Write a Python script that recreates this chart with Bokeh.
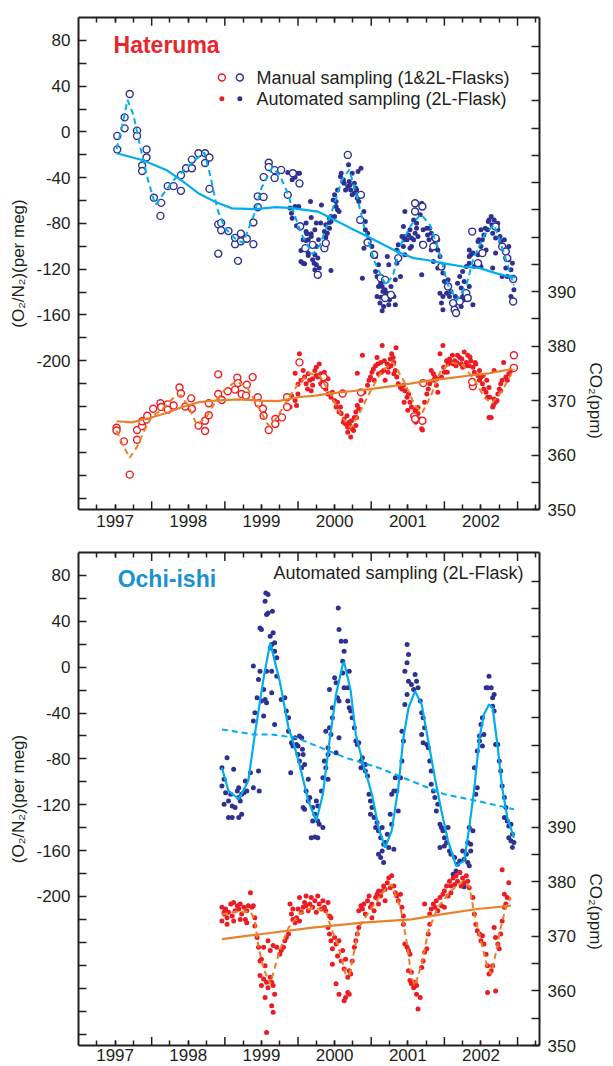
from bokeh.plotting import figure
from bokeh.models import Range1d, LinearAxis, FixedTicker, Title
from bokeh.layouts import column
from bokeh.embed import file_html
from bokeh.resources import INLINE
from bokeh.core.properties import value

# ---------------------------------------------------------------- data
# Hateruma: O2/N2 (per meg) and CO2 (ppm), decimal years
hat_o2_manual = [
    (1997.53, -3.5), (1997.53, -15.3), (1997.63, 12.7), (1997.63, 3.1), (1997.70, 33.2),
    (1997.80, 1.1), (1997.80, -3.5), (1997.87, -29.4), (1997.87, -34.1), (1997.93, -15.3),
    (1997.93, -22.4), (1998.03, -57.6), (1998.13, -62.0), (1998.12, -73.4), (1998.22, -47.4),
    (1998.30, -47.4), (1998.40, -51.5), (1998.40, -37.8), (1998.47, -31.7), (1998.55, -31.7),
    (1998.55, -24.2), (1998.64, -18.6), (1998.73, -18.6), (1998.73, -27.1), (1998.79, -22.4),
    (1998.79, -49.8), (1998.91, -80.8), (1998.95, -79.5), (1998.95, -85.9), (1999.05, -86.7),
    (1998.91, -106.4), (1999.14, -98.1), (1999.14, -92.6), (1999.22, -88.9), (1999.22, -95.6),
    (1999.30, -93.4), (1999.18, -112.7), (1999.39, -79.2), (1999.39, -98.1), (1999.45, -65.8),
    (1999.45, -56.3), (1999.53, -56.8), (1999.53, -39.5), (1999.60, -26.9), (1999.60, -30.6),
    (1999.68, -33.4), (1999.68, -40.2), (1999.77, -33.2), (1999.86, -55.0), (1999.93, -36.1),
    (2000.02, -45.0), (2000.03, -82.5), (2000.10, -101.6), (2000.20, -98.7), (2000.27, -124.9),
    (2000.36, -101.6), (2000.38, -97.2), (2000.68, -20.1), (2000.86, -55.0), (2000.85, -76.9),
    (2000.95, -96.7), (2001.04, -107.4), (2001.13, -127.8), (2001.19, -129.3), (2001.19, -145.2),
    (2001.27, -142.4), (2001.37, -110.3), (2001.60, -69.6), (2001.60, -62.3), (2001.70, -65.2),
    (2001.71, -98.7), (2001.88, -92.8), (2001.85, -100.2), (2001.96, -117.6), (2002.05, -135.1),
    (2002.12, -149.6), (2002.14, -155.5), (2002.16, -158.3), (2002.21, -148.2), (2002.30, -140.9),
    (2002.32, -145.2), (2002.38, -87.1), (2002.70, -82.7), (2002.79, -100.2), (2002.84, -104.5),
    (2002.86, -110.3), (2002.52, -105.9), (2002.46, -114.7), (2002.94, -128.6), (2002.94, -148.2),
]

hat_o2_auto = [
    (1999.86, -35.5), (1999.93, -36.1), (2000.00, -36.1), (1999.96, -39.6), (1999.92, -41.9),
    (2000.17, -60.9), (1999.89, -66.6), (1999.96, -65.2), (2000.01, -65.2), (1999.91, -71.0),
    (1999.92, -75.4), (1999.98, -82.1), (2000.04, -83.2), (2000.11, -79.7), (2000.18, -74.8),
    (2000.25, -79.7), (2000.12, -89.1), (2000.18, -89.1), (2000.14, -94.3), (2000.11, -94.9),
    (2000.20, -98.7), (2000.04, -103.7), (2000.14, -108.0), (2000.04, -113.3), (2000.07, -114.7),
    (2000.22, -114.7), (2000.23, -120.5), (2000.27, -124.9), (2000.02, -36.1), (2000.09, -115.3),
    (2000.23, -107.4), (2000.27, -110.3), (2000.25, -116.2), (2000.29, -119.0), (2000.31, -79.7),
    (2000.38, -81.2), (2000.43, -79.2), (2000.32, -63.8), (2000.36, -87.1), (2000.38, -92.0),
    (2000.43, -75.4), (2000.45, -78.3), (2000.45, -74.0), (2000.45, -121.1), (2000.48, -59.4),
    (2000.50, -55.0), (2000.52, -65.2), (2000.54, -68.1), (2000.56, -69.6), (2000.59, -36.1),
    (2000.61, -43.4), (2000.63, -44.8), (2000.68, -47.8), (2000.70, -43.4), (2000.69, -28.8),
    (2000.74, -36.1), (2000.72, -50.7), (2000.77, -53.5), (2000.79, -49.2), (2000.81, -57.9),
    (2000.83, -60.9), (2000.86, -31.7), (2000.90, -69.6), (2000.92, -78.3), (2000.92, -85.6),
    (2000.95, -88.5), (2000.97, -94.3), (2001.01, -100.2), (2001.06, -108.9), (2000.90, -101.6),
    (2001.10, -116.2), (2000.88, -127.8), (2001.08, -126.4), (2001.10, -135.1), (2001.15, -135.1),
    (2001.19, -138.0), (2001.08, -143.8), (2001.13, -144.4), (2001.17, -152.6), (2001.24, -151.1),
    (2001.33, -151.1), (2001.15, -156.3), (2001.22, -108.9), (2001.24, -116.2), (2001.35, -114.7),
    (2001.35, -103.1), (2001.37, -98.7), (2001.40, -126.4), (2001.44, -82.7), (2001.46, -91.4),
    (2001.49, -94.3), (2001.51, -90.0), (2001.55, -92.8), (2001.60, -88.5), (2001.62, -84.1),
    (2001.58, -76.9), (2001.69, -62.3), (2001.67, -72.5), (2001.71, -85.6), (2001.76, -84.1),
    (2001.80, -84.1), (2001.82, -88.5), (2001.85, -92.8), (2001.82, -103.1), (2001.89, -101.6),
    (2001.91, -103.1), (2001.94, -108.9), (2001.44, -100.2), (2001.46, -107.4), (2001.53, -101.6),
    (2001.55, -100.2), (2001.42, -91.4), (2001.46, -69.6), (2001.85, -113.3), (2001.91, -119.0),
    (2001.98, -123.4), (2002.00, -130.7), (2002.03, -140.9), (2001.96, -149.6), (2001.98, -155.5),
    (2002.07, -143.8), (2002.23, -152.6), (2002.25, -143.8), (2002.39, -151.1), (2001.94, -140.9),
    (2001.69, -124.9), (2002.21, -126.4), (2002.25, -122.0), (2002.30, -117.6), (2002.34, -114.7),
    (2002.27, -130.7), (2002.34, -108.9), (2002.39, -105.9), (2002.46, -95.8), (2002.50, -100.2),
    (2002.52, -94.3), (2002.54, -90.0), (2002.59, -85.6), (2002.61, -76.9), (2002.64, -74.0),
    (2002.68, -76.9), (2002.73, -85.6), (2002.66, -88.5), (2002.70, -92.8), (2002.77, -95.8),
    (2002.88, -111.8), (2002.84, -119.0), (2002.91, -120.5), (2002.93, -114.7), (2002.79, -126.4),
    (2002.86, -126.4), (2002.95, -138.0), (2002.91, -143.8), (2002.46, -107.4), (2002.36, -107.4),
    (2002.34, -103.1), (2002.57, -103.1), (2002.50, -117.6), (2002.66, -119.0), (2002.70, -105.9),
    (2000.54, -50.7), (2000.58, -39.0), (2000.62, -41.9), (2000.65, -50.7), (2000.71, -46.3),
    (2000.74, -55.0), (2000.77, -44.8), (2000.80, -50.7), (2000.82, -34.6), (2000.50, -73.9),
    (2000.52, -60.8), (2000.43, -84.1), (2000.40, -88.5), (2001.06, -122.0), (2001.13, -132.2),
    (2001.16, -139.4), (2001.21, -140.9), (2001.25, -146.7), (2001.31, -143.8), (2001.27, -135.1),
    (2001.33, -129.3), (2001.12, -149.6), (2001.53, -85.6), (2001.58, -94.3), (2001.64, -91.4),
    (2001.69, -97.2), (2001.77, -90.0), (2001.79, -94.3), (2001.87, -97.2), (2001.91, -94.3),
    (2001.45, -94.3), (2001.62, -79.8), (2002.05, -129.2), (2002.09, -139.4), (2002.15, -143.8),
    (2002.18, -132.2), (2002.23, -136.5), (2002.27, -146.7), (2002.34, -135.1), (2001.98, -143.8),
    (2002.14, -152.5), (2002.47, -94.3), (2002.50, -85.6), (2002.56, -84.1), (2002.60, -78.3),
    (2002.65, -81.2), (2002.73, -79.8), (2002.76, -91.4), (2002.82, -94.3), (2002.88, -100.1),
    (2002.41, -117.6), (2000.07, -94.3), (2000.11, -87.0), (2000.18, -91.4), (2000.23, -85.6),
    (2000.28, -94.3), (2000.14, -106.0), (2000.20, -111.8), (2000.25, -100.1),
]

hat_o2_trend = [
    (1997.52, -18.6), (1997.87, -24.5), (1998.20, -33.2), (1998.43, -43.4), (1998.65, -54.1),
    (1998.88, -61.4), (1999.10, -66.8), (1999.42, -67.5), (1999.70, -65.8), (1999.92, -66.6),
    (2000.27, -69.6), (2000.50, -76.9), (2000.72, -84.1), (2000.95, -91.4), (2001.17, -98.7),
    (2001.35, -104.5), (2001.58, -110.3), (2001.80, -112.4), (2002.03, -115.3), (2002.25, -117.6),
    (2002.48, -119.0), (2002.70, -123.4), (2002.88, -126.4), (2002.97, -126.9),
]

hat_o2_fit = [
    (1997.52, -15), (1997.60, 6), (1997.67, 28), (1997.75, 15), (1997.85, -15), (1997.95, -42),
    (1998.05, -64), (1998.15, -55), (1998.30, -42), (1998.45, -33), (1998.60, -24), (1998.72, -18),
    (1998.80, -38), (1998.90, -68), (1999.00, -84), (1999.15, -94), (1999.25, -97), (1999.40, -72),
    (1999.50, -49), (1999.65, -31), (1999.75, -38), (1999.85, -52), (1999.95, -72), (2000.05, -90),
    (2000.20, -107), (2000.30, -99), (2000.45, -72), (2000.60, -42), (2000.70, -33), (2000.80, -55),
    (2000.92, -87), (2001.05, -114), (2001.20, -134), (2001.30, -125), (2001.40, -99), (2001.55, -81),
    (2001.68, -72), (2001.80, -81), (2001.92, -103), (2002.05, -134), (2002.17, -147), (2002.30, -134),
    (2002.40, -110), (2002.55, -90), (2002.68, -81), (2002.80, -103), (2002.95, -134),
]

hat_co2_manual = [
    (1997.52, 365.0), (1997.52, 364.5), (1997.62, 362.5), (1997.70, 356.4), (1997.80, 364.6),
    (1997.80, 362.8), (1997.87, 365.3), (1997.87, 366.2), (1997.93, 366.5), (1997.94, 367.2),
    (1998.02, 368.5), (1998.12, 369.5), (1998.13, 368.8), (1998.22, 369.3), (1998.22, 368.3),
    (1998.30, 369.1), (1998.38, 372.4), (1998.40, 371.3), (1998.46, 368.9), (1998.54, 370.4),
    (1998.55, 368.5), (1998.64, 365.4), (1998.73, 364.4), (1998.73, 366.3), (1998.78, 367.3),
    (1998.78, 369.5), (1998.91, 374.8), (1998.91, 371.2), (1998.96, 370.1), (1999.04, 371.7),
    (1999.14, 372.0), (1999.17, 374.2), (1999.18, 373.2), (1999.23, 371.2), (1999.29, 370.9),
    (1999.30, 372.9), (1999.38, 374.3), (1999.45, 370.6), (1999.46, 369.5), (1999.52, 368.5),
    (1999.53, 367.2), (1999.60, 364.6), (1999.69, 366.6), (1999.69, 365.7), (1999.78, 366.9),
    (1999.85, 368.8), (1999.85, 370.6), (2000.02, 377.0), (2000.35, 374.3), (2000.36, 372.8),
    (2000.61, 371.3), (2000.86, 371.5), (2001.71, 373.2), (2001.59, 367.1), (2001.60, 366.6),
    (2001.70, 366.3), (2002.39, 372.6), (2002.38, 373.4), (2002.95, 378.3), (2002.95, 376.0),
]

hat_co2_auto = [
    (1999.89, 368.8), (1999.91, 370.9), (1999.96, 370.0), (1999.98, 369.1), (2000.00, 371.2),
    (1999.96, 375.0), (2000.02, 378.6), (2000.04, 373.7), (2000.09, 374.3), (2000.11, 373.1),
    (2000.14, 374.9), (2000.16, 373.7), (2000.18, 371.8), (2000.20, 372.8), (2000.23, 375.5),
    (2000.25, 374.6), (2000.27, 374.3), (2000.29, 376.7), (2000.31, 374.9), (2000.34, 373.7),
    (2000.38, 372.1), (2000.41, 371.2), (2000.45, 370.6), (2000.47, 371.5), (2000.50, 370.0),
    (2000.52, 368.8), (2000.54, 369.7), (2000.56, 367.9), (2000.59, 367.6), (2000.63, 366.6),
    (2000.65, 365.7), (2000.68, 365.1), (2000.70, 366.0), (2000.72, 363.3), (2000.74, 364.8),
    (2000.77, 366.9), (2000.79, 367.9), (2000.81, 369.1), (2000.83, 368.5), (2000.86, 370.0),
    (2000.88, 378.3), (2000.81, 375.0), (2000.90, 371.5), (2000.95, 372.8), (2000.97, 373.7),
    (2000.99, 374.3), (2001.01, 375.2), (2001.04, 373.7), (2001.06, 376.4), (2001.08, 377.9),
    (2001.10, 374.9), (2001.13, 377.0), (2001.15, 380.1), (2001.17, 375.5), (2001.19, 373.7),
    (2001.22, 376.7), (2001.24, 376.1), (2001.26, 377.6), (2001.28, 378.6), (2001.31, 377.0),
    (2001.33, 375.5), (2001.34, 379.7), (2001.35, 374.3), (2001.37, 373.1), (2001.40, 372.4),
    (2001.42, 372.1), (2001.44, 372.8), (2001.46, 371.8), (2001.49, 370.6), (2001.51, 371.2),
    (2001.53, 369.7), (2001.55, 368.8), (2001.60, 368.2), (2001.62, 368.5), (2001.64, 367.6),
    (2001.69, 364.8), (2001.70, 364.6), (2001.58, 366.6), (2001.60, 367.1), (2001.73, 369.7),
    (2001.76, 371.2), (2001.78, 372.1), (2001.80, 373.1), (2001.82, 375.5), (2001.85, 373.7),
    (2001.87, 374.3), (2001.89, 372.8), (2001.91, 371.5), (2001.94, 378.6), (2001.98, 380.1),
    (2001.96, 374.3), (2002.00, 375.2), (2002.03, 377.3), (2002.05, 376.7), (2002.07, 377.6),
    (2002.09, 377.0), (2002.12, 376.7), (2002.14, 377.3), (2002.16, 376.4), (2002.18, 378.3),
    (2002.21, 377.9), (2002.23, 376.7), (2002.25, 376.1), (2002.27, 378.9), (2002.30, 377.0),
    (2002.32, 378.3), (2002.34, 376.4), (2002.36, 377.3), (2002.39, 376.1), (2002.41, 375.2),
    (2002.43, 376.7), (2002.46, 374.6), (2002.48, 373.7), (2002.50, 374.3), (2002.52, 373.1),
    (2002.54, 372.1), (2002.57, 371.5), (2002.59, 370.6), (2002.61, 372.4), (2002.64, 366.9),
    (2002.66, 368.8), (2002.68, 370.3), (2002.70, 369.7), (2002.73, 371.2), (2002.75, 372.1),
    (2002.77, 373.1), (2002.79, 373.7), (2002.81, 377.0), (2002.84, 374.3), (2002.86, 373.7),
    (2002.88, 374.9), (2002.91, 375.5), (2002.68, 375.5), (2002.61, 366.9),
    (2000.07, 375.5), (2000.13, 372.1), (2000.20, 374.0), (2000.25, 376.1), (2000.31, 373.1),
    (2000.36, 375.2), (2000.41, 374.0), (2000.00, 373.0), (2000.58, 368.8), (2000.62, 366.0),
    (2000.67, 367.2), (2000.71, 365.4), (2000.76, 364.5), (2000.68, 364.2), (2000.73, 366.3),
    (2000.79, 365.4), (2000.80, 366.9), (2001.03, 375.8), (2001.09, 376.7), (2001.14, 375.2),
    (2001.18, 377.3), (2001.23, 375.2), (2001.27, 376.4), (2001.31, 374.9), (2001.30, 377.9),
    (2001.45, 369.7), (2001.50, 368.2), (2001.57, 367.2), (2001.61, 366.0), (2001.64, 368.7),
    (2001.67, 366.6), (2001.85, 374.9), (2001.90, 374.0), (2001.99, 376.1), (2002.04, 375.2),
    (2002.11, 378.3), (2002.17, 377.0), (2002.24, 377.6), (2002.31, 376.4), (2002.35, 378.0),
    (2002.42, 377.0), (2002.48, 375.5), (2002.53, 374.6), (2002.58, 373.7), (2002.62, 370.6),
    (2002.67, 369.1), (2002.72, 370.0), (2002.77, 371.8),
]

hat_co2_trend = [
    (1997.52, 366.2), (1997.73, 366.0), (1997.97, 366.8), (1998.20, 367.7), (1998.42, 368.8),
    (1998.65, 369.7), (1998.87, 370.0), (1999.19, 370.2), (1999.46, 370.0), (1999.73, 369.9),
    (2000.00, 370.6), (2000.23, 370.9), (2000.45, 371.3), (2000.72, 371.7), (2000.99, 372.1),
    (2001.26, 372.6), (2001.53, 373.1), (2001.80, 373.7), (2002.07, 374.1), (2002.34, 374.6),
    (2002.61, 375.0), (2002.93, 375.8),
]

hat_co2_fit = [
    (1997.52, 364.5), (1997.60, 362.0), (1997.70, 359.5), (1997.80, 361.5), (1997.90, 364.5),
    (1998.00, 367.0), (1998.15, 368.5), (1998.30, 370.5), (1998.40, 371.0), (1998.50, 369.0),
    (1998.62, 365.5), (1998.75, 367.0), (1998.88, 370.0), (1999.00, 372.0), (1999.15, 373.5),
    (1999.30, 372.5), (1999.45, 369.0), (1999.60, 365.3), (1999.72, 367.0), (1999.85, 370.0),
    (2000.00, 373.0), (2000.15, 375.0), (2000.30, 374.5), (2000.45, 371.0), (2000.60, 367.0),
    (2000.72, 365.0), (2000.85, 368.0), (2001.00, 372.0), (2001.15, 375.5), (2001.30, 377.0),
    (2001.45, 373.5), (2001.60, 369.0), (2001.70, 367.8), (2001.82, 371.0), (2001.95, 375.5),
    (2002.10, 377.0), (2002.25, 376.5), (2002.40, 374.0), (2002.55, 370.5), (2002.65, 369.5),
    (2002.80, 372.0), (2002.95, 375.8),
]

# Ochi-ishi: automated sampling only
och_o2 = [
    (1998.96, -87.7), (1998.99, -97.8), (1998.96, -103.7), (1999.03, -79.0), (1999.01, -109.5),
    (1999.08, -110.9), (1999.05, -116.7), (1999.12, -89.1), (1999.10, -121.1), (1999.17, -108.0),
    (1999.19, -113.8), (1999.21, -116.7), (1999.23, -110.9), (1999.28, -99.3), (1999.30, -108.0),
    (1999.35, -92.0), (1999.39, -105.1), (1999.46, -90.6), (1999.47, -108.0), (1998.99, -119.6),
    (1999.05, -131.2), (1999.10, -131.2), (1999.19, -131.2), (1999.23, -128.3), (1999.14, -122.5),
    (1999.19, -105.1), (1999.26, -109.5),
    (1999.39, -47.0), (1999.41, -39.8), (1999.44, -26.7), (1999.48, -3.5), (1999.46, -10.8),
    (1999.39, 0.9), (1999.50, -29.6), (1999.53, -19.5), (1999.53, -42.7), (1999.48, 34.2),
    (1999.50, 32.8), (1999.55, 57.5), (1999.56, 64.7), (1999.59, 63.3), (1999.57, 45.9),
    (1999.59, 47.3), (1999.65, 48.8), (1999.62, 27.0), (1999.66, 29.9), (1999.64, 19.7),
    (1999.68, 13.9), (1999.71, 8.1), (1999.68, 21.2), (1999.64, -3.5), (1999.62, 16.8),
    (1999.57, -3.5), (1999.55, -28.2), (1999.57, -31.1), (1999.64, -22.4), (1999.71, -7.9),
    (1999.68, -50.0), (1999.77, -28.2), (1999.82, -26.7), (1999.84, -38.3), (1999.87, -44.1),
    (1999.87, -55.8), (1999.91, -65.9), (1999.93, -68.8), (1999.96, -61.6), (1999.98, -67.4),
    (2000.00, -68.8), (2000.02, -60.1), (2000.05, -61.6), (2000.06, -71.7), (1999.90, -92.0),
    (2000.00, -76.1), (2000.02, -81.9), (2000.05, -87.7), (2000.07, -76.1), (2000.09, -84.8),
    (2000.14, -97.8), (2000.11, -108.0), (2000.07, -122.5), (2000.09, -124.0), (2000.14, -116.7),
    (2000.16, -113.8), (2000.20, -122.5), (2000.23, -128.3), (2000.25, -116.7), (2000.27, -121.1),
    (2000.20, -134.1), (2000.27, -134.1), (2000.29, -137.0), (2000.34, -139.9), (2000.32, -108.0),
    (2000.18, -148.7), (2000.23, -148.1), (2000.27, -148.7),
    (2000.34, -96.4), (2000.38, -87.7), (2000.41, -97.8), (2000.36, -81.9), (2000.41, -76.1),
    (2000.41, -70.3), (2000.38, -55.8), (2000.43, -52.9), (2000.45, -58.7), (2000.43, -19.5),
    (2000.47, -35.4), (2000.47, -44.1), (2000.50, -9.3), (2000.52, -13.7), (2000.54, -26.7),
    (2000.56, -29.6), (2000.52, -74.6), (2000.56, -61.6), (2000.59, 22.6), (2000.56, 32.8),
    (2000.55, 51.7), (2000.61, 5.2), (2000.63, 13.9), (2000.65, 22.6), (2000.61, -5.0),
    (2000.63, -18.0), (2000.68, -18.0), (2000.70, -3.5), (2000.68, -29.6), (2000.70, -35.4),
    (2000.72, -38.3), (2000.74, -44.1), (2000.77, -52.9), (2000.79, -64.5), (2000.81, -67.4),
    (2000.83, -65.9), (2000.86, -81.9), (2000.88, -79.0), (2000.90, -84.8), (2000.92, -90.6),
    (2000.95, -95.0), (2000.86, -87.7), (2000.92, -84.8), (2000.97, -110.9), (2000.99, -116.7),
    (2001.01, -122.5), (2000.99, -128.3), (2001.04, -131.2), (2001.06, -139.9), (2001.08, -135.6),
    (2001.10, -142.8), (2001.15, -139.9), (2001.13, -148.7), (2001.17, -154.5), (2001.19, -153.0),
    (2001.22, -145.7), (2001.15, -160.3), (2001.10, -163.2), (2001.13, -166.1), (2001.17, -170.4),
    (2001.24, -157.4), (2001.31, -158.8), (2001.28, -137.0), (2001.26, -128.3), (2001.28, -110.9),
    (2001.31, -108.0), (2001.33, -96.4), (2001.35, -108.0), (2001.37, -125.4), (2001.40, -96.4),
    (2001.42, -81.9), (2001.44, -64.5), (2001.42, -55.8), (2001.46, -32.5), (2001.49, -23.8),
    (2001.51, -12.2), (2001.46, -3.5), (2001.49, 3.8), (2001.51, 11.0), (2001.49, 19.7),
    (2001.55, -15.1), (2001.58, -19.5), (2001.60, -6.4), (2001.62, -12.2), (2001.64, -18.0),
    (2001.67, -29.6), (2001.69, -39.8), (2001.71, -44.1), (2001.73, -52.9), (2001.69, -58.7),
    (2001.71, -65.9), (2001.76, -67.4), (2001.78, -70.3), (2001.80, -81.9), (2001.82, -90.6),
    (2001.82, -102.2), (2001.85, -108.0), (2001.87, -113.8), (2001.89, -125.4), (2001.91, -119.6),
    (2001.94, -137.0), (2001.96, -139.9), (2001.98, -142.8), (2002.00, -148.7), (2001.94, -157.4),
    (2002.00, -155.9), (2002.05, -139.9), (2002.03, -153.0), (2002.07, -160.3), (2002.09, -163.2),
    (2002.14, -166.1), (2002.18, -171.9), (2002.16, -177.7), (2002.21, -169.0), (2002.25, -160.3),
    (2002.27, -167.5), (2002.30, -163.2), (2002.32, -170.4), (2002.34, -173.3), (2002.36, -160.3),
    (2002.34, -139.9), (2002.32, -153.0), (2002.12, -180.6), (2002.21, -179.1), (2002.27, -191.6),
    (2002.36, -154.5), (2002.39, -142.8), (2002.43, -110.9), (2002.45, -105.1), (2002.41, -87.7),
    (2002.45, -73.2), (2002.48, -64.5), (2002.48, -60.1), (2002.50, -50.0), (2002.52, -44.1),
    (2002.57, -18.0), (2002.59, -18.0), (2002.61, -7.9), (2002.64, -18.0), (2002.66, -26.7),
    (2002.66, -34.0), (2002.68, -23.8), (2002.68, -38.3), (2002.70, -67.4), (2002.73, -67.4),
    (2002.75, -81.9), (2002.77, -90.6), (2002.79, -103.7), (2002.82, -113.8), (2002.84, -122.5),
    (2002.82, -131.2), (2002.86, -134.1), (2002.88, -138.5), (2002.91, -137.0), (2002.93, -145.7),
    (2002.91, -151.5), (2002.95, -153.0), (2002.93, -157.4), (2002.88, -148.7), (2002.52, -68.8),
    (2002.54, -58.7),
]

och_o2_fit = [
    (1998.96, -87.7), (1999.05, -108.0), (1999.19, -115.0), (1999.32, -99.3), (1999.41, -58.7),
    (1999.53, -9.3), (1999.62, 21.2), (1999.75, -12.2), (1999.87, -52.9), (1999.93, -64.5),
    (2000.02, -84.8), (2000.14, -116.7), (2000.25, -134.1), (2000.34, -110.9), (2000.43, -64.5),
    (2000.52, -23.8), (2000.61, 2.3), (2000.63, 4.5), (2000.72, -20.9), (2000.79, -58.7),
    (2000.88, -81.9), (2001.01, -110.9), (2001.10, -139.9), (2001.19, -157.4), (2001.28, -142.8),
    (2001.37, -105.1), (2001.44, -61.6), (2001.51, -35.4), (2001.60, -20.9), (2001.69, -32.5),
    (2001.78, -64.5), (2001.87, -96.4), (2001.96, -125.4), (2002.05, -151.5), (2002.16, -173.3),
    (2002.27, -169.0), (2002.34, -139.9), (2002.41, -105.1), (2002.48, -61.6), (2002.54, -41.2),
    (2002.61, -32.5), (2002.66, -35.4), (2002.73, -70.3), (2002.79, -105.1), (2002.86, -131.2),
    (2002.95, -148.7),
]

och_o2_trend = [
    (1998.96, -54.3), (1999.39, -58.7), (1999.62, -58.7), (1999.98, -61.6), (2000.20, -67.4),
    (2000.65, -79.0), (2001.10, -87.7), (2001.55, -99.3), (2002.00, -110.9), (2002.45, -116.7),
    (2002.95, -124.0),
]

och_co2 = [
    (1998.96, 375.3), (1998.99, 374.1), (1999.01, 375.0), (1999.03, 373.4), (1999.05, 374.4),
    (1999.08, 375.9), (1999.10, 373.7), (1999.12, 376.2), (1999.14, 374.7), (1999.17, 375.6),
    (1999.19, 375.0), (1999.21, 375.9), (1999.23, 374.1), (1999.26, 375.3), (1999.28, 373.1),
    (1999.30, 374.7), (1999.32, 375.6), (1999.35, 378.0), (1999.37, 375.3), (1999.39, 375.6),
    (1998.96, 372.8), (1999.03, 372.2), (1999.12, 372.8), (1999.21, 373.1), (1999.30, 372.5),
    (1998.99, 374.4), (1999.41, 371.9), (1999.41, 373.4),
    (1999.44, 369.8), (1999.46, 368.0), (1999.48, 365.5), (1999.50, 365.8), (1999.53, 368.0),
    (1999.48, 362.8), (1999.50, 361.0), (1999.53, 362.2), (1999.55, 364.6), (1999.57, 361.6),
    (1999.59, 360.6), (1999.62, 362.5), (1999.64, 361.6), (1999.66, 361.0), (1999.55, 358.8),
    (1999.68, 359.4), (1999.64, 357.3), (1999.66, 356.1), (1999.57, 352.4), (1999.62, 367.4),
    (1999.71, 368.0), (1999.75, 366.7), (1999.77, 367.4), (1999.80, 368.0), (1999.82, 369.2),
    (1999.84, 369.8), (1999.87, 370.4), (1999.59, 369.2), (1999.66, 368.3),
    (1999.89, 375.9), (1999.91, 374.1), (1999.93, 373.1), (1999.96, 372.5), (1999.98, 373.4),
    (2000.00, 375.0), (2000.02, 372.8), (2000.05, 374.4), (2000.07, 375.3), (2000.09, 376.2),
    (2000.11, 375.6), (2000.14, 374.7), (2000.16, 375.9), (2000.18, 377.1), (2000.20, 375.3),
    (2000.23, 376.5), (2000.25, 374.4), (2000.27, 377.4), (2000.29, 375.9), (2000.32, 375.0),
    (2000.34, 376.5), (2000.36, 375.3), (2000.38, 374.7), (2000.41, 376.2), (2000.43, 373.7),
    (2000.45, 373.4), (2000.02, 377.1), (1999.93, 375.0), (2000.11, 377.4),
    (2000.41, 371.6), (2000.43, 370.4), (2000.45, 369.2), (2000.47, 367.7), (2000.50, 369.8),
    (2000.52, 368.6), (2000.54, 366.4), (2000.56, 369.2), (2000.59, 365.5), (2000.61, 367.4),
    (2000.63, 364.0), (2000.65, 365.8), (2000.68, 362.5), (2000.70, 363.7), (2000.52, 361.3),
    (2000.56, 359.4), (2000.63, 358.2), (2000.65, 358.8), (2000.68, 359.7), (2000.70, 359.4),
    (2000.72, 363.1), (2000.74, 365.5), (2000.77, 368.0), (2000.79, 369.2), (2000.81, 370.4),
    (2000.83, 371.6), (2000.47, 364.9),
    (2000.83, 374.7), (2000.86, 375.6), (2000.88, 375.0), (2000.90, 375.9), (2000.92, 374.1),
    (2000.95, 376.5), (2000.97, 377.4), (2000.99, 375.3), (2001.01, 375.9), (2001.04, 374.7),
    (2001.06, 377.1), (2001.08, 377.7), (2001.10, 378.3), (2001.13, 377.4), (2001.15, 378.3),
    (2001.17, 379.2), (2001.19, 378.6), (2001.22, 379.8), (2001.24, 380.7), (2001.26, 378.9),
    (2001.28, 381.1), (2001.31, 379.2), (2001.33, 378.0), (2001.35, 377.4), (2001.37, 376.5),
    (2001.40, 377.7), (2001.42, 375.3), (2001.44, 373.7), (2001.19, 376.5), (2001.10, 375.9),
    (2001.01, 373.4),
    (2001.44, 372.2), (2001.46, 368.6), (2001.49, 368.0), (2001.51, 367.4), (2001.53, 366.7),
    (2001.51, 363.7), (2001.53, 361.9), (2001.55, 361.3), (2001.58, 360.6), (2001.60, 361.6),
    (2001.62, 359.4), (2001.64, 356.7), (2001.67, 358.8), (2001.69, 364.3), (2001.71, 365.5),
    (2001.73, 367.1), (2001.76, 367.7), (2001.78, 370.4), (2001.80, 372.2), (2001.55, 363.4),
    (2001.62, 361.0),
    (2001.80, 374.1), (2001.82, 375.0), (2001.85, 375.9), (2001.87, 375.3), (2001.89, 376.5),
    (2001.91, 374.7), (2001.94, 377.1), (2001.96, 375.6), (2001.98, 377.7), (2002.00, 378.3),
    (2002.03, 379.2), (2002.05, 377.4), (2002.07, 380.1), (2002.09, 378.0), (2002.12, 380.7),
    (2002.14, 379.5), (2002.16, 381.1), (2002.18, 380.1), (2002.21, 381.7), (2002.23, 379.2),
    (2002.25, 380.7), (2002.27, 379.8), (2002.30, 381.1), (2002.32, 380.1), (2002.34, 378.9),
    (2001.73, 375.9), (2002.00, 375.3), (2002.09, 379.2),
    (2002.39, 377.1), (2002.41, 374.1), (2002.43, 372.2), (2002.45, 371.0), (2002.48, 370.4),
    (2002.50, 369.2), (2002.52, 370.1), (2002.54, 368.6), (2002.57, 366.7), (2002.59, 364.6),
    (2002.61, 363.1), (2002.64, 363.7), (2002.66, 364.6), (2002.59, 359.7), (2002.70, 360.0),
    (2002.68, 371.6), (2002.70, 369.8), (2002.73, 368.6), (2002.75, 367.7), (2002.77, 370.4),
    (2002.79, 372.8), (2002.82, 375.3), (2002.84, 375.9), (2002.86, 377.1), (2002.88, 379.8),
    (2002.79, 382.2), (2002.82, 377.7),
]

och_co2_trend = [
    (1998.96, 369.5), (2000.20, 371.6), (2000.88, 372.5), (2001.55, 373.1), (2002.00, 374.1),
    (2002.45, 375.0), (2002.91, 375.6),
]

och_co2_fit = [
    (1998.96, 374.0), (1999.15, 374.5), (1999.35, 374.5), (1999.41, 373.0), (1999.46, 368.0),
    (1999.53, 364.0), (1999.62, 361.3), (1999.75, 367.4), (1999.87, 371.6), (2000.02, 374.1),
    (2000.20, 375.3), (2000.38, 374.7), (2000.45, 371.6), (2000.54, 368.6), (2000.65, 363.1),
    (2000.70, 362.8), (2000.77, 367.4), (2000.83, 371.6), (2001.01, 375.3), (2001.19, 378.6),
    (2001.28, 379.5), (2001.40, 375.3), (2001.49, 368.6), (2001.55, 362.5), (2001.60, 361.0),
    (2001.69, 364.9), (2001.78, 371.0), (2001.91, 375.3), (2002.09, 378.3), (2002.25, 380.1),
    (2002.34, 379.2), (2002.41, 374.1), (2002.52, 368.0), (2002.59, 364.3), (2002.64, 363.1),
    (2002.70, 366.7), (2002.77, 371.6), (2002.84, 375.3), (2002.91, 377.1),
]

# axis ticks
year_labels = [1997, 1998, 1999, 2000, 2001, 2002]
year_edges = [1998, 1999, 2000, 2001, 2002, 2003]
quarter_ticks = [1997.25, 1997.5, 1997.75, 1998.25, 1998.5, 1998.75, 1999.25, 1999.5, 1999.75,
                 2000.25, 2000.5, 2000.75, 2001.25, 2001.5, 2001.75, 2002.25, 2002.5, 2002.75,
                 2003.25]
o2_ticks = [-320, -300, -280, -260, -240, -220, -200, -180, -160, -140, -120, -100, -80, -60,
            -40, -20, 0, 20, 40, 60, 80]
o2_labels = [-200, -160, -120, -80, -40, 0, 40, 80]
co2_ticks = [350, 355, 360, 365, 370, 375, 380, 385, 390, 395, 400, 405, 410, 415, 420, 425,
             430, 435]
co2_labels = [350, 360, 370, 380, 390]

# ---------------------------------------------------------------- style
NAVY = "#2e3192"
RED = "#ed1c24"
CYAN = "#00aeef"
ORANGE = "#e8822a"
INK = "#231f20"
FONT = "Liberation Sans"
TICK_FONT = "17px"
TEXT_FONT = "18px"


def xy(rows):
    return [r[0] for r in rows], [r[1] for r in rows]


def style_axis(ax, tick_len, minor_len=5):
    ax.axis_line_width = 2
    ax.axis_line_color = INK
    ax.major_tick_line_color = INK
    ax.major_tick_line_width = 1.5
    ax.minor_tick_line_color = INK
    ax.minor_tick_line_width = 1.5
    ax.major_tick_in = tick_len
    ax.major_tick_out = 0
    ax.minor_tick_in = minor_len
    ax.minor_tick_out = 0
    ax.major_label_text_font = FONT
    ax.major_label_text_font_size = TICK_FONT
    ax.major_label_text_color = INK


def o2_title(p, bounds):
    # an axis carrying only the O2 title, centred on the given bounds
    ax = LinearAxis(ticker=FixedTicker(ticks=[], minor_ticks=[]), bounds=bounds,
                    axis_label="(O\u2082/N\u2082)(per meg)")
    ax.axis_line_color = None
    ax.major_tick_line_color = None
    ax.minor_tick_line_color = None
    ax.major_tick_in = 0
    ax.major_tick_out = 0
    ax.minor_tick_in = 0
    ax.minor_tick_out = 0
    ax.major_label_text_font_size = "0px"
    ax.major_label_standoff = 0
    ax.axis_label_standoff = 6
    ax.axis_label_text_font = FONT
    ax.axis_label_text_font_size = "17px"
    ax.axis_label_text_font_style = "normal"
    ax.axis_label_text_color = INK
    p.add_layout(ax, "left")


def co2_title(p, offset):
    p.add_layout(Title(text="CO\u2082(ppm)", align="left", offset=offset, standoff=14,
                       text_font=FONT, text_font_size="17px", text_font_style="normal",
                       text_color=INK), "right")


def make_panel(height, border_top, border_bottom, label_standoff):
    p = figure(width=613, height=height, x_range=Range1d(1997.0, 2003.3),
               y_range=Range1d(-330, 100), x_axis_type=None, y_axis_type=None,
               output_backend="svg", toolbar_location=None,
               min_border_left=78, min_border_right=69,
               min_border_top=border_top, min_border_bottom=border_bottom)
    p.outline_line_color = None
    p.extra_y_ranges = {"co2": Range1d(350, 440.3), "fy": Range1d(0, 1)}
    p.extra_x_ranges = {"fx": Range1d(0, 1)}

    xb = LinearAxis(ticker=FixedTicker(ticks=[y + 0.5 for y in year_labels],
                                       minor_ticks=quarter_ticks))
    style_axis(xb, 5)
    xb.major_label_overrides = {y + 0.5: str(y) for y in year_labels}
    xb.major_label_standoff = label_standoff
    p.add_layout(xb, "below")

    xt = LinearAxis(ticker=FixedTicker(ticks=[y + 0.5 for y in year_labels],
                                       minor_ticks=quarter_ticks))
    style_axis(xt, 5)
    xt.major_label_text_font_size = "0px"
    xt.major_label_standoff = 0
    xt.major_label_overrides = {y + 0.5: "" for y in year_labels}
    p.add_layout(xt, "above")

    yl = LinearAxis(ticker=FixedTicker(ticks=o2_ticks, minor_ticks=[]))
    style_axis(yl, 8)
    yl.major_label_overrides = {t: (str(t) if t in o2_labels else "") for t in o2_ticks}
    yl.major_label_standoff = 8
    p.add_layout(yl, "left")

    yr = LinearAxis(y_range_name="co2", ticker=FixedTicker(ticks=co2_ticks, minor_ticks=[]))
    style_axis(yr, 8)
    yr.major_label_overrides = {t: (str(t) if t in co2_labels else "") for t in co2_ticks}
    yr.major_label_standoff = 8
    p.add_layout(yr, "right")

    # longer year-boundary ticks on the bottom and top edges
    p.segment(x0=year_edges, y0=0, x1=year_edges, y1=0.017, y_range_name="fy",
              line_color=INK, line_width=1.5)
    p.segment(x0=year_edges, y0=1, x1=year_edges, y1=0.983, y_range_name="fy",
              line_color=INK, line_width=1.5)
    return p


def frame_text(p, x, y, text, size, color, bold=False):
    p.text(x=[x], y=[y], text=[text], x_range_name="fx", y_range_name="fy",
           text_font=value(FONT), text_font_size=size, text_color=color,
           text_font_style="bold" if bold else "normal", text_baseline="middle",
           text_align="left")


# ---------------------------------------------------------------- Hateruma
p1 = make_panel(534, 17, 25, 5)

tx, ty = xy(hat_o2_auto)
p1.scatter(tx, ty, size=5, fill_color=NAVY, line_color=None)
tx, ty = xy(hat_co2_auto)
p1.scatter(tx, ty, size=5, fill_color=RED, line_color=None, y_range_name="co2")
tx, ty = xy(hat_o2_manual)
p1.scatter(tx, ty, size=7, fill_color="white", line_color=NAVY, line_width=1.4)
tx, ty = xy(hat_co2_manual)
p1.scatter(tx, ty, size=7, fill_color="white", line_color=RED, line_width=1.4,
           y_range_name="co2")

tx, ty = xy(hat_o2_fit)
p1.line(tx, ty, line_color=CYAN, line_width=2, line_dash="6 4")
tx, ty = xy(hat_co2_fit)
p1.line(tx, ty, line_color=ORANGE, line_width=2, line_dash="6 4", y_range_name="co2")
tx, ty = xy(hat_o2_trend)
p1.line(tx, ty, line_color=CYAN, line_width=2.2)
tx, ty = xy(hat_co2_trend)
p1.line(tx, ty, line_color=ORANGE, line_width=2.2, y_range_name="co2")

# legend keys
p1.scatter([0.311, 0.350], [0.878, 0.878], x_range_name="fx", y_range_name="fy", size=7,
           fill_color="white", line_color=[RED, NAVY], line_width=1.4)
p1.scatter([0.311, 0.350], [0.835, 0.835], x_range_name="fx", y_range_name="fy", size=5,
           fill_color=[RED, NAVY], line_color=None)
frame_text(p1, 0.386, 0.878, "Manual sampling (1&2L-Flasks)", TEXT_FONT, INK)
frame_text(p1, 0.386, 0.835, "Automated sampling (2L-Flask)", TEXT_FONT, INK)
frame_text(p1, 0.076, 0.945, "Hateruma", "23px", "#e8262b", bold=True)
o2_title(p1, (-100, 26))
co2_title(p1, 345)

# ---------------------------------------------------------------- Ochi-ishi
p2 = make_panel(532, 18, 21, 3)

tx, ty = xy(och_o2)
p2.scatter(tx, ty, size=5, fill_color=NAVY, line_color=None)
tx, ty = xy(och_co2)
p2.scatter(tx, ty, size=5, fill_color=RED, line_color=None, y_range_name="co2")

tx, ty = xy(och_o2_trend)
p2.line(tx, ty, line_color=CYAN, line_width=2, line_dash="6 4")
tx, ty = xy(och_co2_fit)
p2.line(tx, ty, line_color=ORANGE, line_width=2, line_dash="6 4", y_range_name="co2")
tx, ty = xy(och_o2_fit)
p2.line(tx, ty, line_color=CYAN, line_width=2.2)
tx, ty = xy(och_co2_trend)
p2.line(tx, ty, line_color=ORANGE, line_width=2.2, y_range_name="co2")

frame_text(p2, 0.423, 0.959, "Automated sampling (2L-Flask)", TEXT_FONT, INK)
frame_text(p2, 0.085, 0.946, "Ochi-ishi", "23px", "#1a92d0", bold=True)
o2_title(p2, (-80, 46))
co2_title(p2, 321)

layout = column(p1, p2, spacing=0)
open("out.html", "w").write(file_html(layout, INLINE))
